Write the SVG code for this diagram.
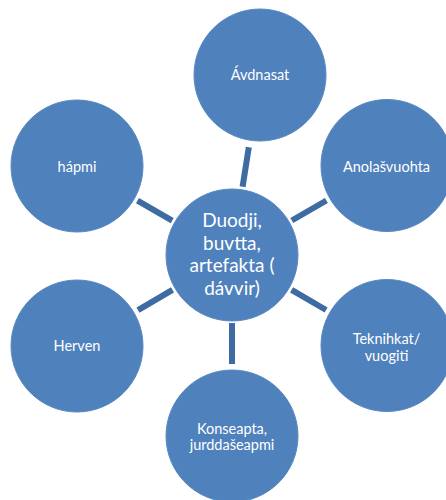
<svg xmlns="http://www.w3.org/2000/svg" width="446" height="500" viewBox="0 0 446 500">
<style>
.n{fill:#4f81bd;stroke:#5a8ac2;stroke-width:1}
.t{fill:#ffffff;font-family:Lato,"Liberation Sans",sans-serif;font-size:14.5px;text-anchor:middle}
.c{font-size:19px}
.e{stroke:#3d6ba2;stroke-width:6;stroke-linecap:butt;fill:none}
</style>
<rect width="446" height="500" fill="#ffffff"/>
<g id="connectors">
<line class="e" x1="242.6" y1="186.8" x2="248.8" y2="147.3"/>
<line class="e" x1="291.8" y1="220.5" x2="326.4" y2="200.5"/>
<line class="e" x1="172.2" y1="220.6" x2="137.5" y2="200.7"/>
<line class="e" x1="172.5" y1="289.9" x2="138" y2="310.2"/>
<line class="e" x1="291.6" y1="289.8" x2="326.1" y2="310"/>
<line class="e" x1="232" y1="323" x2="232" y2="364"/>
</g>
<g id="center">
<circle class="n" cx="232" cy="255" r="66"/>
<text class="t c" x="232" y="227">Duodji,</text>
<text class="t c" x="232" y="250">buvtta,</text>
<text class="t c" x="232" y="272">artefakta (</text>
<text class="t c" x="232" y="295">dávvir)</text>
</g>
<g id="avdnasat">
<circle class="n" cx="260" cy="75" r="66"/>
<text class="t" x="260" y="80">Ávdnasat</text>
</g>
<g id="anolasvuohta">
<circle class="n" cx="387" cy="165.5" r="66"/>
<text class="t" x="386.5" y="171.5">Anolašvuohta</text>
</g>
<g id="teknihkat">
<circle class="n" cx="387" cy="345.5" r="66"/>
<text class="t" x="386.5" y="344">Teknihkat/</text>
<text class="t" x="386.5" y="361">vuogiti</text>
</g>
<g id="konseapta">
<circle class="n" cx="232" cy="436" r="66"/>
<text class="t" x="232" y="433.5">Konseapta,</text>
<text class="t" x="232" y="450">jurddašeapmi</text>
</g>
<g id="herven">
<circle class="n" cx="77" cy="346" r="66"/>
<text class="t" x="77" y="351">Herven</text>
</g>
<g id="hapmi">
<circle class="n" cx="77" cy="166" r="66"/>
<text class="t" x="77" y="171.5">hápmi</text>
</g>
</svg>
